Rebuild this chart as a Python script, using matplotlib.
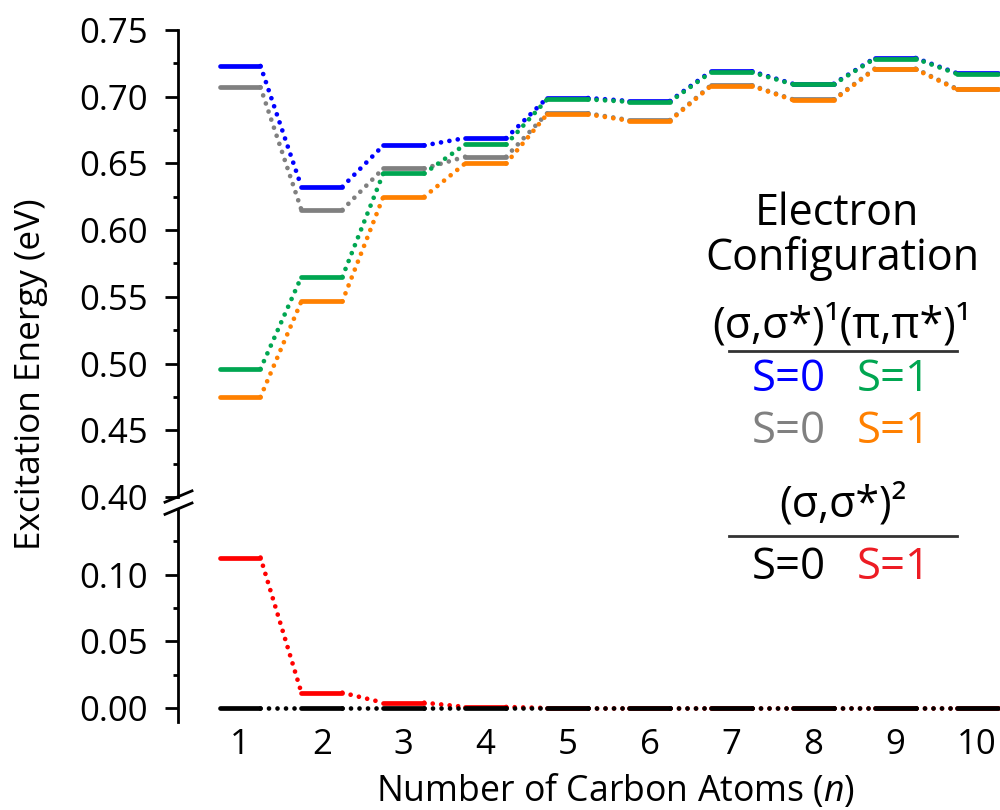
import numpy as np
import matplotlib as mpl
import matplotlib.pyplot as plt
from matplotlib.lines import Line2D

mpl.use("Agg")

plt.rcParams.update({"font.family": ["Open Sans", "DejaVu Sans"]})
plt.rcParams.update({"font.size": 25})
plt.rcParams.update({"mathtext.fontset": "custom"})
plt.rcParams.update({"mathtext.rm": "Open Sans"})
plt.rcParams.update({"mathtext.it": "Open Sans:italic"})

# number of carbon atoms
n_atoms = np.arange(1, 11)

# (sigma,sigma*)^1 (pi,pi*)^1 states
ss_pp_s0_a = [0.723, 0.6325, 0.6635, 0.669, 0.699, 0.6968, 0.719, 0.7097, 0.729, 0.7177]
ss_pp_s1_a = [0.496, 0.565, 0.6425, 0.6642, 0.698, 0.6962, 0.7183, 0.7093, 0.7285, 0.7172]
ss_pp_s0_b = [0.707, 0.6152, 0.6462, 0.655, 0.6875, 0.6825, 0.7085, 0.698, 0.721, 0.706]
ss_pp_s1_b = [0.475, 0.5467, 0.625, 0.650, 0.6868, 0.682, 0.708, 0.6975, 0.7205, 0.7055]

# (sigma,sigma*)^2 states
ss2_s0 = [0.0, 0.0, 0.0, 0.0, 0.0, 0.0, 0.0, 0.0, 0.0, 0.0]
ss2_s1 = [0.1128, 0.0115, 0.004, 0.0008, 0.0, 0.0, 0.0, 0.0, 0.0, 0.0]

yticks_top = [0.40, 0.45, 0.50, 0.55, 0.60, 0.65, 0.70, 0.75]
yticks_bot = [0.00, 0.05, 0.10]

c_blue = "#0000ff"
c_gray = "#808080"
c_green = "#00a651"
c_orange = "#ff8000"
c_red = "#ff0000"
c_black = "#000000"

half = 0.25
lw = 3.4


def draw_levels(ax, x, vals, color, z):
    vals = np.asarray(vals)
    lc = ax.hlines(vals, x - half, x + half, colors=color, lw=lw, zorder=z)
    lc.set_capstyle("round")
    for i in range(len(x) - 1):
        ax.plot(
            [x[i] + half, x[i + 1] - half],
            [vals[i], vals[i + 1]],
            color=color,
            lw=lw,
            ls=(0, (0.001, 1.8)),
            dash_capstyle="round",
            zorder=z,
        )


fig = plt.figure(figsize=(10, 8.1), dpi=100)
ax_top = fig.add_axes([0.178, 0.3864, 0.822, 0.963 - 0.3864])
ax_bot = fig.add_axes([0.178, 0.1086, 0.822, 0.3704 - 0.1086], sharex=ax_top)

draw_levels(ax_top, n_atoms, ss_pp_s0_a, c_blue, 2)
draw_levels(ax_top, n_atoms, ss_pp_s0_b, c_gray, 2)
draw_levels(ax_top, n_atoms, ss_pp_s1_a, c_green, 3)
draw_levels(ax_top, n_atoms, ss_pp_s1_b, c_orange, 3)
draw_levels(ax_bot, n_atoms, ss2_s1, c_red, 2)
draw_levels(ax_bot, n_atoms, ss2_s0, c_black, 3)

ax_top.set_xlim(0.243, 10.28)
ax_top.set_ylim(0.40, 0.75)
ax_bot.set_ylim(-0.0105, 0.1485)

for ax in (ax_top, ax_bot):
    for side in ("top", "right", "bottom"):
        ax.spines[side].set_visible(False)
    ax.spines["left"].set_linewidth(2)
    ax.tick_params(axis="y", which="major", length=9.4, width=2, pad=12)
    ax.tick_params(axis="y", which="minor", length=3.6, width=2)

ax_top.set_yticks(yticks_top)
ax_top.set_yticks(np.arange(0.425, 0.75, 0.05), minor=True)
ax_top.set_yticklabels(["%.2f" % v for v in yticks_top])
ax_top.tick_params(axis="x", bottom=False, labelbottom=False)

ax_bot.set_yticks(yticks_bot)
ax_bot.set_yticks([0.025, 0.075, 0.125], minor=True)
ax_bot.set_yticklabels(["%.2f" % v for v in yticks_bot])
ax_bot.set_xticks(n_atoms)
ax_bot.tick_params(axis="x", length=0, pad=4)

# break marks
for y0 in (0.387, 0.372):
    fig.add_artist(Line2D([0.165, 0.192], [y0 - 0.007, y0 + 0.007], color="k", lw=2))

fig.text(0.031, 0.538, "Excitation Energy (eV)", rotation=90, ha="center", va="center",
         fontsize=25.3)
fig.text(0.616, 0.011, r"Number of Carbon Atoms ($\mathit{n}$)", ha="center",
         va="baseline", fontsize=25.7)


def px(x, y):
    return x / 1000, 1 - y / 810


fig.text(*px(837, 214), "Electron", ha="center", va="center", fontsize=31)
fig.text(*px(842, 259), "Configuration", ha="center", va="center", fontsize=31)
fig.text(*px(842, 326), "(σ,σ*)¹(π,π*)¹", ha="center", va="center", fontsize=31)
fig.add_artist(Line2D([0.729, 0.957], [1 - 351 / 810] * 2, color="#333333", lw=2))
fig.text(*px(789, 380), "S=0", ha="center", va="center", fontsize=31.5, color=c_blue)
fig.text(*px(894, 380), "S=1", ha="center", va="center", fontsize=31.5, color=c_green)
fig.text(*px(789, 432), "S=0", ha="center", va="center", fontsize=31.5, color=c_gray)
fig.text(*px(894, 432), "S=1", ha="center", va="center", fontsize=31.5, color=c_orange)
fig.text(*px(843, 505), "(σ,σ*)²", ha="center", va="center", fontsize=31)
fig.add_artist(Line2D([0.729, 0.957], [1 - 536 / 810] * 2, color="#333333", lw=2))
fig.text(*px(789, 568), "S=0", ha="center", va="center", fontsize=31.5, color=c_black)
fig.text(*px(894, 568), "S=1", ha="center", va="center", fontsize=31.5, color="#ed1c24")

plt.savefig("out.png", dpi=100)
